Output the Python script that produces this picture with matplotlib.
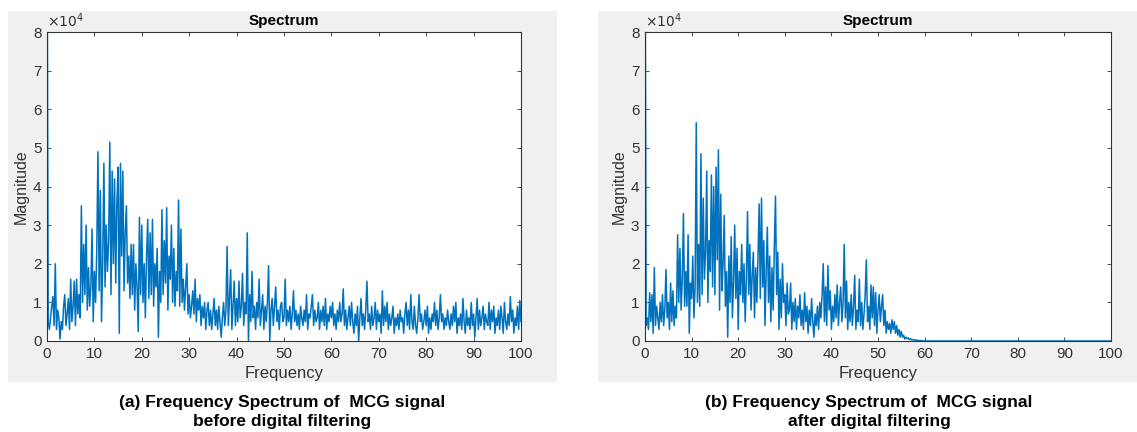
import numpy as np
import matplotlib
matplotlib.use('Agg')
import matplotlib.pyplot as plt
from matplotlib.patches import Rectangle

plt.rcParams['font.family'] = ['Liberation Sans', 'DejaVu Sans']

mag_before = [
    12.0, 0.5, 0.3, 0.6,  0.9, 1.15, 0.4, 2.0,  0.3, 0.8, 0.6, 0.05,  0.5, 0.3, 0.9, 1.2,
    0.4, 0.7, 1.1, 0.3,  1.6, 0.5, 0.9, 1.55,  0.4, 1.6, 0.7, 1.2,  0.6, 3.5, 1.0, 2.5,
    1.2, 3.0, 0.8, 1.9,  0.9, 1.4, 2.9, 0.5,  1.8, 1.0, 2.4, 4.9,  1.3, 3.9, 0.5, 2.0,
    4.6, 1.4, 3.0, 1.8,  2.6, 5.15, 1.2, 4.4,  2.0, 4.2, 1.5, 3.6,  4.5, 0.2, 4.6, 2.2,
    4.4, 1.3, 2.8, 3.5,  1.5, 2.2, 1.1, 2.5,  1.2, 2.5, 0.8, 2.0,  1.4, 0.25, 3.2, 1.2,
    3.0, 1.0, 2.0, 0.6,  2.2, 3.15, 1.1, 2.8,  1.2, 3.15, 0.9, 2.0,  1.4, 2.4, 0.1, 1.8,
    1.0, 3.4, 1.2, 2.6,  1.5, 3.45, 0.8, 2.2,  1.6, 3.0, 1.0, 2.4,  0.9, 1.8, 1.3, 3.65,
    0.9, 2.9, 1.0, 1.6,  0.8, 1.4, 2.0, 0.7,  1.2, 0.6, 0.9, 1.3,  0.7, 1.6, 0.5, 1.1,
    0.8, 1.2, 0.4, 0.9,  0.6, 1.0, 0.3, 0.8,  1.0, 0.4, 0.8, 0.3,  0.7, 1.1, 0.4, 0.8,
    0.3, 0.9, 0.5, 0.1,  0.6, 1.0, 0.4, 0.8,  2.45, 0.4, 1.1, 1.85,  0.3, 0.9, 1.55, 0.4,
    1.1, 0.5, 1.55, 0.6,  0.9, 1.75, 0.4, 1.0,  0.7, 2.8, 0.0, 1.2,  0.5, 1.8, 0.6, 0.9,
    0.3, 1.0, 0.6, 1.6,  0.4, 0.8, 1.2, 0.3,  0.9, 0.5, 1.0, 1.95,  0.0, 0.8, 1.1, 0.4,
    0.9, 1.4, 0.5, 0.8,  0.3, 0.9, 1.0, 0.5,  0.6, 1.6, 0.4, 0.8,  0.5, 0.9, 0.3, 0.7,
    1.3, 0.5, 0.8, 0.4,  0.7, 0.3, 0.9, 0.6,  0.4, 0.8, 0.5, 1.2,  0.3, 0.7, 0.6, 0.9,
    1.2, 0.4, 0.8, 0.5,  0.6, 1.0, 0.3, 0.8,  0.5, 0.9, 0.4, 1.1,  0.3, 0.7, 0.5, 0.9,
    0.6, 1.0, 0.4, 0.7,  0.3, 0.8, 0.5, 1.0,  0.5, 0.7, 1.35, 0.4,  0.8, 0.3, 0.6, 0.9,
    0.4, 1.0, 0.5, 0.2,  0.7, 0.4, 0.9, 0.0,  0.6, 1.1, 0.4, 0.7,  0.3, 0.8, 1.55, 0.5,
    0.7, 0.3, 0.9, 0.4,  0.6, 1.0, 0.3, 0.8,  0.5, 0.7, 0.2, 1.3,  0.4, 0.9, 0.5, 1.0,
    0.3, 0.7, 0.4, 0.6,  0.9, 0.2, 0.6, 0.4,  0.7, 0.3, 0.8, 0.5,  0.6, 0.2, 0.7, 1.0,
    0.4, 0.8, 0.3, 1.2,  0.5, 0.3, 0.9, 0.4,  0.2, 0.6, 1.2, 0.5,  0.7, 0.3, 0.5, 0.8,
    0.4, 0.9, 0.2, 0.6,  0.3, 0.7, 0.5, 1.0,  0.4, 0.8, 0.3, 0.6,  1.2, 0.5, 0.7, 0.3,
    0.6, 0.4, 0.8, 0.5,  0.3, 0.7, 0.4, 0.9,  0.5, 1.0, 0.2, 0.6,  0.4, 0.7, 0.3, 1.1,
    0.5, 0.2, 0.8, 0.4,  0.6, 0.3, 1.0, 0.4,  0.7, 0.1, 0.6, 1.1,  0.3, 0.8, 0.4, 0.6,
    0.9, 0.3, 0.7, 0.5,  0.4, 1.0, 0.3, 0.8,  0.5, 0.9, 0.2, 0.6,  0.4, 0.8, 0.3, 0.9,
    0.6, 0.2, 1.0, 0.5,  0.3, 0.7, 0.4, 1.15,  0.5, 0.8, 0.2, 0.6,  0.4, 0.9, 0.3, 1.05,
    0.5,
]

mag_after = [
    12.0, 0.4, 0.6, 0.3,  1.25, 0.5, 1.2, 0.2,  1.9, 0.4, 0.9, 0.6,  0.3, 1.0, 0.5, 1.2,
    0.4, 0.8, 1.85, 0.6,  1.0, 0.3, 1.5, 0.5,  1.3, 0.4, 0.9, 0.6,  2.75, 1.0, 2.4, 0.8,
    1.6, 3.3, 0.9, 1.8,  0.9, 2.75, 0.2, 1.5,  1.1, 2.2, 0.6, 1.4,  5.65, 1.0, 2.5, 0.9,
    4.85, 1.2, 3.7, 1.6,  2.3, 4.4, 1.0, 2.6,  1.8, 4.3, 1.4, 4.0,  1.2, 4.5, 2.1, 4.95,
    0.8, 3.8, 1.3, 2.0,  3.25, 0.9, 1.8, 0.1,  2.2, 1.0, 2.7, 0.6,  1.5, 3.0, 1.1, 2.4,
    0.3, 1.8, 1.2, 2.5,  1.0, 2.0, 0.5, 1.6,  3.35, 1.2, 2.5, 0.8,  1.7, 2.3, 0.6, 1.9,
    1.0, 2.2, 3.55, 1.1,  3.7, 1.4, 2.6, 0.4,  1.8, 2.95, 1.0, 2.2,  0.5, 1.9, 0.8, 2.4,
    3.75, 1.2, 2.3, 0.3,  1.6, 0.6, 2.0, 1.0,  1.2, 0.4, 1.5, 0.7,  0.8, 1.5, 0.3, 1.0,
    0.5, 1.1, 0.3, 0.9,  0.6, 1.2, 0.4, 0.8,  0.3, 1.25, 0.5, 0.9,  0.2, 0.8, 0.4, 1.1,
    0.5, 0.1, 0.7, 0.4,  0.9, 0.3, 1.0, 0.6,  1.2, 2.0, 0.5, 1.4,  0.4, 1.95, 0.8, 1.3,
    0.3, 0.9, 0.5, 1.2,  0.6, 1.45, 0.4, 1.0,  1.4, 0.5, 1.0, 2.5,  0.6, 1.55, 0.3, 1.0,
    0.5, 1.2, 0.4, 0.9,  1.7, 0.3, 0.8, 0.5,  1.6, 0.4, 1.0, 0.3,  0.7, 1.2, 2.1, 0.5,
    0.9, 0.3, 1.45, 0.6,  1.4, 0.4, 1.25, 0.2,  0.8, 1.2, 0.5, 0.9,  1.2, 0.4, 0.8, 0.2,
    0.5, 0.3, 0.45, 0.2,  0.55, 0.3, 0.5, 0.2,  0.4, 0.15, 0.3, 0.1,  0.25, 0.1, 0.15, 0.05,
    0.1, 0.06, 0.08, 0.03,  0.06, 0.03, 0.04, 0.02,  0.03, 0.02, 0.02, 0.01,  0.01, 0.01, 0.01, 0.0,
    0, 0, 0, 0, 0, 0, 0, 0, 0, 0, 0, 0, 0, 0, 0, 0, 0, 0, 0, 0,
    0, 0, 0, 0, 0, 0, 0, 0, 0, 0, 0, 0, 0, 0, 0, 0, 0, 0, 0, 0,
    0, 0, 0, 0, 0, 0, 0, 0, 0, 0, 0, 0, 0, 0, 0, 0, 0, 0, 0, 0,
    0, 0, 0, 0, 0, 0, 0, 0, 0, 0, 0, 0, 0, 0, 0, 0, 0, 0, 0, 0,
    0, 0, 0, 0, 0, 0, 0, 0, 0, 0, 0, 0, 0, 0, 0, 0, 0, 0, 0, 0,
    0, 0, 0, 0, 0, 0, 0, 0, 0, 0, 0, 0, 0, 0, 0, 0, 0, 0, 0, 0,
    0, 0, 0, 0, 0, 0, 0, 0, 0, 0, 0, 0, 0, 0, 0, 0, 0, 0, 0, 0,
    0, 0, 0, 0, 0, 0, 0, 0, 0, 0, 0, 0, 0, 0, 0, 0, 0, 0, 0, 0,
    0,
]

x_ticks = [0, 10, 20, 30, 40, 50, 60, 70, 80, 90, 100]
y_ticks = [0, 1, 2, 3, 4, 5, 6, 7, 8]
captions = ["(a) Frequency Spectrum of  MCG signal\nbefore digital filtering",
            "(b) Frequency Spectrum of  MCG signal\nafter digital filtering"]

freq = np.arange(len(mag_before)) * 0.25

W, H = 1137, 432
fig = plt.figure(figsize=(W / 100, H / 100), dpi=100, facecolor='white')

def px_rect(x0, y0, x1, y1):
    # pixel box (top-left origin) -> figure fraction [left, bottom, width, height]
    return [x0 / W, (H - y1) / H, (x1 - x0) / W, (y1 - y0) / H]

# grey MATLAB figure backgrounds
for (x0, x1) in [(8, 557), (598, 1137)]:
    l, b, w, h = px_rect(x0, 11, x1, 382)
    fig.patches.append(Rectangle((l, b), w, h, transform=fig.transFigure,
                                 facecolor='#f0f0f0', edgecolor='none', zorder=-5))

axes_boxes = [(47, 32, 521, 341), (645, 32, 1111, 341)]
caption_x = [282, 869]
dark = '#333333'

for i, mag in enumerate([mag_before, mag_after]):
    ax = fig.add_axes(px_rect(*axes_boxes[i]))
    ax.set_zorder(1)
    ax.plot(freq, mag, color='#0072BD', lw=1.1)
    ax.set_xlim(0, 100)
    ax.set_ylim(0, 8)
    ax.set_xticks(x_ticks)
    ax.set_yticks(y_ticks)
    ax.tick_params(direction='in', top=True, right=True, length=3, width=0.6,
                   colors=dark, labelsize=11, pad=4)
    for sp in ax.spines.values():
        sp.set_color(dark)
        sp.set_linewidth(0.8)
    ax.set_title('Spectrum', fontsize=11, fontweight='bold', color='black', pad=5)
    ax.set_xlabel('Frequency', fontsize=12, color=dark, labelpad=4)
    ax.set_ylabel('Magnitude', fontsize=11.5, color=dark, labelpad=3)
    ax.text(0.0, 1.005, r'$\times10^4$', transform=ax.transAxes, fontsize=10,
            color=dark, ha='left', va='bottom')
    fig.text(caption_x[i] / W, 1 - 395 / H, captions[i], ha='center', va='top',
             fontsize=12.5, fontweight='bold', linespacing=1.3)

fig.savefig('out.png', dpi=100, facecolor='white')
